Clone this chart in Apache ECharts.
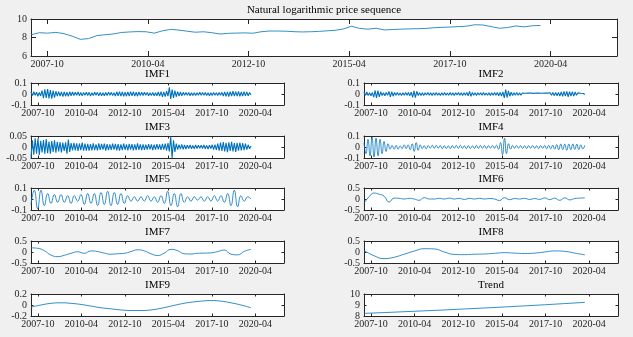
<!DOCTYPE html>
<html><head><meta charset="utf-8">
<script src="https://cdn.jsdelivr.net/npm/echarts@6/dist/echarts.min.js"></script>
<style>html,body{margin:0;padding:0;background:#f0f0f0}#c{width:633px;height:337px}</style>
</head><body><div id="c"></div>
<script>
// ---- data ----
const START = 2007.35, END = 2020.0;          // data span (decimal years)
const XMIN = 2007.35, XMAX = 2021.9;          // axis span
const xTicks = [2007.75, 2010.25, 2012.75, 2015.25, 2017.75, 2020.25];
const xTickLabels = ['2007-10','2010-04','2012-10','2015-04','2017-10','2020-04'];

const logPrice = [8.29,8.52,8.47,8.55,8.42,8.15,7.8,7.88,8.2,8.3,8.38,8.54,8.6,8.64,8.62,8.47,8.72,8.88,8.8,8.68,8.57,8.62,8.52,8.38,8.45,8.48,8.5,8.46,8.62,8.7,8.7,8.68,8.63,8.6,8.62,8.66,8.72,8.78,8.92,9.22,8.98,8.9,9.0,8.82,8.86,8.9,8.93,8.95,8.98,9.05,9.1,9.13,9.18,9.22,9.38,9.35,9.18,9.0,9.08,9.25,9.15,9.27,9.3];

const imf1 = [.018,-.015,.02,-.012,.016,-.02,.014,-.018,
.03,-.038,.042,-.035,.045,-.04,.036,-.042,.03,-.032,.025,
-.02,.022,-.018,.02,-.024,.018,-.02,.016,-.022,.02,-.016,.018,
-.014,.016,-.012,.018,-.015,.013,-.017,.014,-.012,.016,
-.013,.015,-.018,.012,-.014,.016,-.012,.015,-.017,.013,
-.015,.012,-.016,.014,-.013,.017,-.012,.015,-.014,.012,
-.018,.02,-.016,.022,-.019,.018,-.021,.017,-.02,.019,
-.018,.022,-.017,.02,-.019,.016,-.02,.018,-.015,.017,
-.013,.015,-.012,.014,-.016,.012,-.014,.013,-.015,.012,
-.016,.018,-.02,.022,-.025,.02,-.024,.026,-.02,
.06,-.045,.04,-.035,.03,
-.025,.022,-.02,.018,-.016,.015,
-.012,.014,-.011,.013,-.015,.012,-.013,.011,-.014,.012,-.012,.015,-.011,.013,-.012,.014,-.013,.011,-.015,.012,-.013,.014,-.012,.011,-.014,.013,-.012,.015,
-.018,.02,-.022,.019,-.024,.021,-.018,.025,-.02,.022,-.019,.023,-.021,.018,-.02,.022,-.017,.019,-.016,.014,-.01];

const imf2 = [.015,-.012,.018,-.014,.012,-.016,.013,
-.028,.032,-.035,.03,-.026,.02,
-.014,.012,-.015,.013,-.012,
.024,-.026,.022,-.02,
.013,-.011,.014,-.012,.01,-.013,.012,-.011,.014,-.012,.013,-.015,.016,
-.03,.028,-.032,.025,
-.014,.012,-.013,.011,-.014,.012,-.01,.013,-.012,.011,-.013,.012,
-.011,.013,-.012,.01,-.013,.012,-.011,.014,-.012,.01,-.012,.013,
-.012,.011,-.013,.012,-.01,.013,-.011,.012,-.013,.011,-.012,.014,-.016,
.024,-.022,
.014,-.012,.011,-.013,.012,-.01,.012,-.011,.013,-.012,.01,-.012,
.011,-.013,.012,-.011,.013,-.012,.014,-.016,.015,-.018,.02,
-.035,.04,-.032,.028,
-.02,.016,-.014,.012,-.011,.013,-.012,.01,-.011,.009,
-.008,.007,-.009,.008,-.007,.009,-.008,.006,-.008,.009,-.007,.008,-.009,.007,-.008,.009,-.007,.008,-.01,.011,-.012,
.013,-.015,.014,-.016,.015,-.018,.02,
-.022,.024,-.02,.023,-.025,.021,-.019,.022,-.02,.018,
-.012,.01,-.008,.007,-.006,.005,-.004];

const imf3 = [-.048,.03,
-.035,.04,-.03,.038,-.036,.028,-.025,.032,-.03,.036,-.028,.025,-.03,.027,-.022,.03,-.026,.024,-.02,.022,-.025,.02,-.018,.021,
-.03,.034,-.022,
.018,-.016,.019,-.015,.017,-.018,.016,-.014,.02,-.017,.015,-.016,
.014,-.016,.013,-.015,.017,-.014,.012,-.015,.016,-.013,.014,-.012,.015,-.016,.013,-.014,.012,-.013,.015,-.012,
.014,-.015,.013,-.016,.012,-.014,.015,-.013,.012,-.015,.014,-.012,.013,-.015,.012,-.014,.016,-.013,.012,-.014,
.012,-.013,.011,-.012,.013,-.011,.012,-.014,.011,-.012,.013,-.011,.012,-.013,.014,-.012,.015,-.016,.018,
-.02,.046,-.05,.03,-.022,
.015,-.012,.011,-.01,.012,-.011,.01,-.009,
.008,-.007,.009,-.008,.007,-.008,.009,-.007,.008,-.006,.008,-.007,.009,-.008,.007,-.009,.008,-.007,.01,-.012,.011,-.013,.015,
-.017,.02,-.018,.022,-.02,.019,-.023,.021,-.018,.024,-.02,.018,-.022,.019,-.017,.02,-.016,.018,-.014,.015,
-.012,.01,-.008,.005];

const imf4 = [.04,-.06,.07,-.08,
.09,-.09,.08,-.08,.07,-.06,.05,-.04,.03,-.02,
.015,-.02,.015,-.02,.01,-.015,.02,-.015,.02,-.025,
.03,-.04,.04,-.03,.02,
-.015,.012,-.018,.014,-.01,.016,-.012,.015,-.01,.013,-.016,.012,-.014,.01,-.015,.013,-.011,.014,-.012,.016,-.013,.011,-.015,.012,-.014,.01,-.013,.015,-.012,.014,-.011,.013,-.015,.012,-.01,.014,-.012,.016,-.02,
.04,-.07,.08,-.06,.03,-.02,
.015,-.012,.014,-.01,.012,-.013,.011,-.014,.012,-.01,.013,-.012,.011,-.015,.013,-.012,.014,-.016,.015,-.018,.017,-.02,
.022,-.025,.028,-.024,.026,-.03,.027,-.025,.028,-.022,.026,-.024,.02,-.018,.015];

const imf5 = [-.05,.08,-.09,.08,-.06,.05,-.04,.04,-.03,.04,-.03,.03,-.04,.03,-.02,.04,-.05,.05,-.04,.05,-.06,.06,-.05,.07,-.06,.06,-.05,.05,-.04,.03,-.02,.02,-.02,.02,-.02,.03,-.02,.02,-.03,.03,-.04,.07,-.06,.05,-.07,.05,-.03,.02,-.02,.02,-.01,.02,-.02,.02,-.02,.03,-.02,.03,-.03,.05,-.06,.08,-.07,.03,-.02,.02,0];

const imf6 = [-.2,.1,.27,.22,.13,-.14,.04,.03,0,.03,0,-.06,.06,0,0,.03,0,.04,0,.03,-.02,.03,0,.03,0,.02,0,-.07,.06,-.03,.02,0,.03,-.02,.02,-.02,.05,-.03,.04,-.06,.05,-.04,.02,.04,.05];

const imf7 = [.19,.17,.06,-.14,-.21,-.15,-.06,.01,-.06,.05,.02,-.05,-.1,-.08,-.06,.02,.1,.05,-.08,-.16,-.05,.12,.06,-.08,-.09,-.06,-.05,-.04,.02,.09,-.1,-.13,.03,.12];

const imf8 = [.07,-.17,-.3,-.24,-.1,.04,.15,.14,0,-.11,-.12,-.1,-.09,-.06,-.03,-.05,-.07,-.05,0,.05,.03,-.05,-.13];

const imf9 = [-.04,0,.03,.04,.03,.01,-.02,-.05,-.07,-.09,-.1,-.1,-.09,-.06,-.02,.02,.05,.07,.08,.07,.04,0,-.05];

const trend = [8.24,8.31,8.39,8.47,8.55,8.64,8.73,8.82,8.92,9.02,9.13,9.24];

// ---- layout / style ----
const FONT = 'Liberation Serif';
const INK = '#262626';
const LINE = '#0072BD';
const TICKFS = 10, TITLEFS = 11;

const LC = 31, LW = 253, RC = 364, RW = 254;
const ROW0 = 83, PITCH = 52.7, H = 22;

const panels = [
  {title:'Natural logarithmic price sequence', v:logPrice, y:[6,10,2], g:{left:31,top:19,width:586,height:37}, tl:5, smooth:false, lw:0.8},
  {title:'IMF1', v:imf1, y:[-0.1,0.1,0.1], col:0,row:0, smooth:false, lw:1.1},
  {title:'IMF2', v:imf2, y:[-0.1,0.1,0.1], col:1,row:0, smooth:false, lw:1.1},
  {title:'IMF3', v:imf3, y:[-0.05,0.05,0.05], col:0,row:1, smooth:false, lw:1.1},
  {title:'IMF4', v:imf4, y:[-0.1,0.1,0.1], col:1,row:1, smooth:true, lw:0.8},
  {title:'IMF5', v:imf5, y:[-0.1,0.1,0.1], col:0,row:2, smooth:true, lw:0.8},
  {title:'IMF6', v:imf6, y:[-0.5,0.5,0.5], col:1,row:2, smooth:true, lw:0.8},
  {title:'IMF7', v:imf7, y:[-0.5,0.5,0.5], col:0,row:3, smooth:true, lw:0.8},
  {title:'IMF8', v:imf8, y:[-0.5,0.5,0.5], col:1,row:3, smooth:true, lw:0.8},
  {title:'IMF9', v:imf9, y:[-0.2,0.2,0.2], col:0,row:4, smooth:true, lw:0.8},
  {title:'Trend', v:trend, y:[8,10,1], col:1,row:4, smooth:false, lw:0.8}
];

const fmtX = v => { const k = xTicks.findIndex(t => Math.abs(t - v) < 1e-6); return k >= 0 ? xTickLabels[k] : ''; };

const grid = [], xAxis = [], yAxis = [], series = [], graphic = [];
panels.forEach((p, i) => {
  const g = p.g || {left: p.col ? RC : LC, width: p.col ? RW : LW, top: Math.round(ROW0 + p.row * PITCH), height: H};
  const tl = p.tl || 2.5;
  grid.push(Object.assign({show:true, backgroundColor:'#ffffff', borderWidth:0, containLabel:false, outerBoundsMode:'none'}, g));
  const axLine = {show:true, onZero:false, lineStyle:{color:INK, width:1}};
  const xBase = {type:'value', gridIndex:i, min:XMIN, max:XMAX, splitLine:{show:false}, axisLine:axLine};
  xAxis.push(Object.assign({}, xBase, {position:'bottom',
    axisTick:{show:true, inside:true, length:tl, customValues:xTicks, lineStyle:{color:INK}},
    axisLabel:{show:true, customValues:xTicks, formatter:fmtX, margin:3, color:INK, fontFamily:FONT, fontSize:TICKFS}}));
  xAxis.push(Object.assign({}, xBase, {position:'top',
    axisTick:{show:true, inside:true, length:tl, customValues:xTicks, lineStyle:{color:INK}},
    axisLabel:{show:false}}));
  const yBase = {type:'value', gridIndex:i, min:p.y[0], max:p.y[1], interval:p.y[2], splitLine:{show:false}, axisLine:axLine};
  yAxis.push(Object.assign({}, yBase, {position:'left',
    axisTick:{show:true, inside:true, length:tl, lineStyle:{color:INK}},
    axisLabel:{show:true, margin:4, color:INK, fontFamily:FONT, fontSize:TICKFS}}));
  yAxis.push(Object.assign({}, yBase, {position:'right',
    axisTick:{show:true, inside:true, length:tl, lineStyle:{color:INK}},
    axisLabel:{show:false}}));
  const n = p.v.length;
  series.push({type:'line', xAxisIndex:2*i, yAxisIndex:2*i, showSymbol:false, symbol:'none',
    smooth:p.smooth ? 0.5 : false, lineStyle:{color:LINE, width:p.lw}, silent:true,
    data:p.v.map((val, k) => [START + k * (END - START) / (n - 1), val])});
  graphic.push({type:'text', x:g.left + g.width / 2, y:g.top - 8.5,
    style:{text:p.title, fill:'#000', font:TITLEFS + 'px "' + FONT + '"', align:'center', verticalAlign:'middle'}});
});

const chart = echarts.init(document.getElementById('c'), null, {renderer:'canvas'});
chart.setOption({backgroundColor:'#f0f0f0', animation:false, grid, xAxis, yAxis, series, graphic});
</script>
</body></html>
